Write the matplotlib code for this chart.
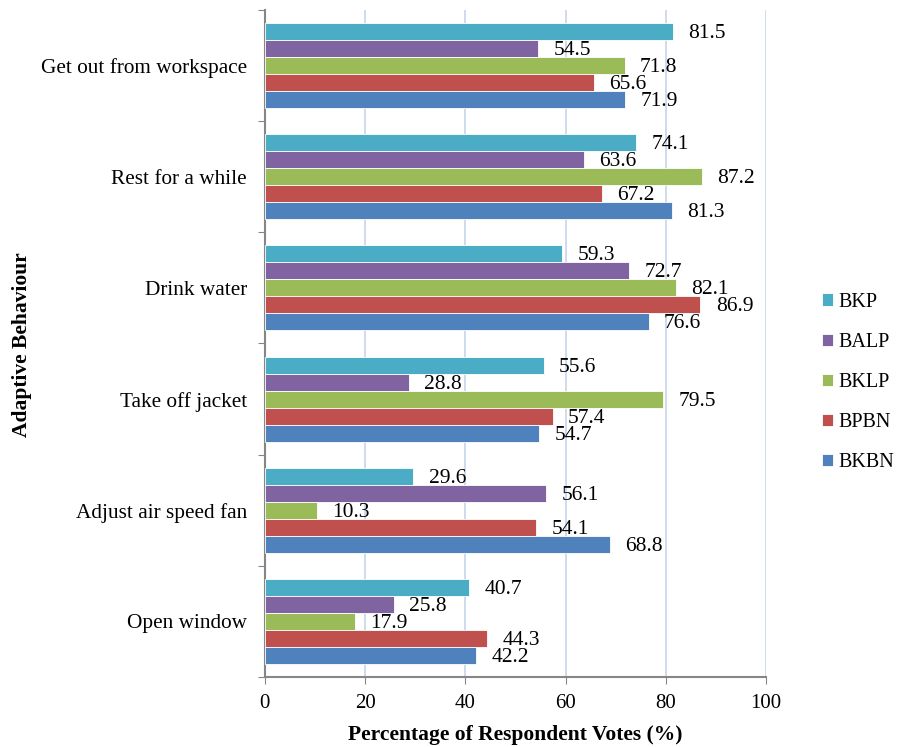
import matplotlib
matplotlib.use("Agg")
import matplotlib.pyplot as plt
import numpy as np

categories = ["Get out from workspace", "Rest for a while", "Drink water",
              "Take off jacket", "Adjust air speed fan", "Open window"]
series = ["BKP", "BALP", "BKLP", "BPBN", "BKBN"]
values = {
    "BKP":  [81.5, 74.1, 59.3, 55.6, 29.6, 40.7],
    "BALP": [54.5, 63.6, 72.7, 28.8, 56.1, 25.8],
    "BKLP": [71.8, 87.2, 82.1, 79.5, 10.3, 17.9],
    "BPBN": [65.6, 67.2, 86.9, 57.4, 54.1, 44.3],
    "BKBN": [71.9, 81.3, 76.6, 54.7, 68.8, 42.2],
}
colors = {"BKP": "#4BACC6", "BALP": "#8064A2", "BKLP": "#9BBB59",
          "BPBN": "#C0504D", "BKBN": "#4F81BD"}
xticks = [0, 20, 40, 60, 80, 100]

plt.rcParams['font.family'] = ['Liberation Serif', 'DejaVu Serif']

fig = plt.figure(figsize=(8.98, 7.47), dpi=100)
ax = fig.add_axes([0.295, 0.0937, 0.558, 0.893])

n = len(categories)
centers = np.arange(n)[::-1]  # top group first
h = 0.153
handles = []
for i, s in enumerate(series):
    ys = centers + (2 - i) * h
    b = ax.barh(ys, values[s], height=h, color=colors[s], edgecolor='white',
                linewidth=0.6, label=s, zorder=3)
    handles.append(b)
    for y, v in zip(ys, values[s]):
        ax.annotate(f"{v:.1f}", (v, y), xytext=(11, -1.5), textcoords='offset points',
                    va='center', ha='left', fontsize=15.5, color='black', zorder=4)

ax.set_xlim(0, 100)
ax.set_ylim(-0.5, n - 0.5)
ax.set_xticks(xticks)
ax.set_xticklabels([str(t) for t in xticks], fontsize=15)
ax.set_yticks(np.arange(-0.5, n, 1.0))
ax.set_yticklabels([])
ax.set_yticks(centers, minor=True)
ax.set_yticklabels(categories, minor=True, fontsize=15.3)
ax.tick_params(axis='y', which='minor', length=0, pad=13)
ax.tick_params(axis='y', which='major', length=5, color='#868686', direction='out')
ax.tick_params(axis='x', length=5, color='#868686', direction='out', pad=7)

ax.grid(axis='x', color='#C5D5EA', linewidth=1.2, zorder=0)
ax.set_axisbelow(True)
for sp in ['top', 'right']:
    ax.spines[sp].set_visible(False)
for sp in ['left', 'bottom']:
    ax.spines[sp].set_color('#868686')
    ax.spines[sp].set_linewidth(1.5)

ax.set_xlabel("Percentage of Respondent Votes (%)", fontsize=15.5, fontweight='bold', labelpad=9)
fig.text(0.024, 0.538, "Adaptive Behaviour", rotation=90, fontsize=15.5,
         fontweight='bold', va='center', ha='center')

leg = fig.legend(handles=handles, labels=series, loc='center left',
                 bbox_to_anchor=(0.915, 0.488), frameon=False, fontsize=14.5,
                 handlelength=0.55, handleheight=0.55, handletextpad=0.3,
                 labelspacing=1.05, borderaxespad=0, borderpad=0)

fig.savefig("out.png", dpi=100)
